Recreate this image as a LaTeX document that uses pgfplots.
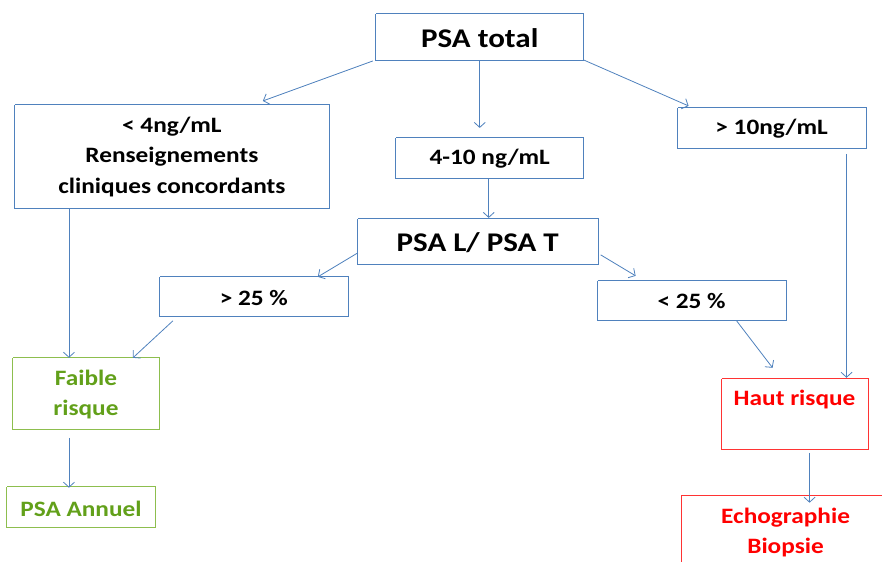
\documentclass[border=0pt]{standalone}
\usepackage{pgfplots}
\pgfplotsset{compat=1.18}
\usepackage{fontspec}
\setmainfont{Carlito}[FakeStretch=1.15]
\usetikzlibrary{arrows.meta}
\definecolor{lineblue}{HTML}{4F81BD}
\definecolor{boxgreen}{HTML}{8DBE4E}
\definecolor{txtgreen}{HTML}{62A01A}
\definecolor{boxred}{HTML}{FF3333}
\begin{document}
\begin{tikzpicture}
\begin{axis}[
    width=882pt, height=562pt, scale only axis,
    xmin=0, xmax=882, ymin=0, ymax=562,
    y dir=reverse,
    hide axis, clip=false,
  ]
  % canvas
  \addplot[draw=none] coordinates {(0,0)(882,562)};

  % boxes, pixel units from the top left
  \addplot[lineblue, line width=1pt] coordinates {(376,14)(584,14)(584,61)(376,61)(376,14)};
  \addplot[lineblue, line width=1pt] coordinates {(15,105)(330,105)(330,209)(15,209)(15,105)};
  \addplot[lineblue, line width=1pt] coordinates {(396,138)(584,138)(584,179)(396,179)(396,138)};
  \addplot[lineblue, line width=1pt] coordinates {(678,108)(867,108)(867,149)(678,149)(678,108)};
  \addplot[lineblue, line width=1pt] coordinates {(358,219)(599,219)(599,265)(358,265)(358,219)};
  \addplot[lineblue, line width=1pt] coordinates {(160,277)(349,277)(349,317)(160,317)(160,277)};
  \addplot[lineblue, line width=1pt] coordinates {(598,281)(787,281)(787,321)(598,321)(598,281)};
  \addplot[boxgreen, line width=1pt] coordinates {(13,358)(160,358)(160,430)(13,430)(13,358)};
  \addplot[boxgreen, line width=1pt] coordinates {(7,487)(156,487)(156,528)(7,528)(7,487)};
  \addplot[boxred, line width=1pt] coordinates {(722,379)(869,379)(869,450)(722,450)(722,379)};
  \addplot[boxred, line width=1pt] coordinates {(682,562)(682,496)(882,496)};

  % arrows
  \pgfplotsset{arr/.style={lineblue, line width=0.8pt, -{Straight Barb[length=5pt,width=11pt]}}}
  \addplot[arr] coordinates {(373,61)(263,101)};
  \addplot[arr] coordinates {(480,61)(480,128)};
  \addplot[arr] coordinates {(584,60)(689,106)};
  \addplot[arr] coordinates {(489,179)(489,218)};
  \addplot[arr] coordinates {(69,209)(69,358)};
  \addplot[arr] coordinates {(358,253)(318,277)};
  \addplot[arr] coordinates {(601,255)(636,276)};
  \addplot[arr] coordinates {(173,321)(133,358)};
  \addplot[arr] coordinates {(847,154)(847,378)};
  \addplot[arr] coordinates {(737,321)(773,368)};
  \addplot[arr] coordinates {(69,438)(69,488)};
  \addplot[arr] coordinates {(810,453)(810,503)};

  % texts
  \node[align=center, font=\fontsize{27}{30}\selectfont\bfseries] at (axis cs:480,38) {PSA total};
  \node[align=center, font=\fontsize{22}{30.5}\selectfont\bfseries] at (axis cs:172,157) {< 4ng/mL\\Renseignements\\cliniques concordants};
  \node[align=center, font=\fontsize{22}{25}\selectfont\bfseries] at (axis cs:490,159) {4-10 ng/mL};
  \node[align=center, font=\fontsize{22}{25}\selectfont\bfseries] at (axis cs:772,129) {> 10ng/mL};
  \node[align=center, font=\fontsize{27}{30}\selectfont\bfseries] at (axis cs:478,243) {PSA L/ PSA T};
  \node[align=center, font=\fontsize{22}{25}\selectfont\bfseries] at (axis cs:254,298) {> 25 \%};
  \node[align=center, font=\fontsize{22}{25}\selectfont\bfseries] at (axis cs:692,301) {< 25 \%};
  \node[align=center, text=txtgreen, font=\fontsize{22}{30}\selectfont\bfseries] at (axis cs:86,395) {Faible\\risque};
  \node[align=center, text=txtgreen, font=\fontsize{22}{25}\selectfont\bfseries] at (axis cs:81,509) {PSA Annuel};
  \node[align=center, text=red, font=\fontsize{22}{25}\selectfont\bfseries] at (axis cs:795,400) {Haut risque};
  \node[align=center, text=red, font=\fontsize{22}{30}\selectfont\bfseries] at (axis cs:786,533) {Echographie\\Biopsie};
\end{axis}
\end{tikzpicture}
\end{document}
